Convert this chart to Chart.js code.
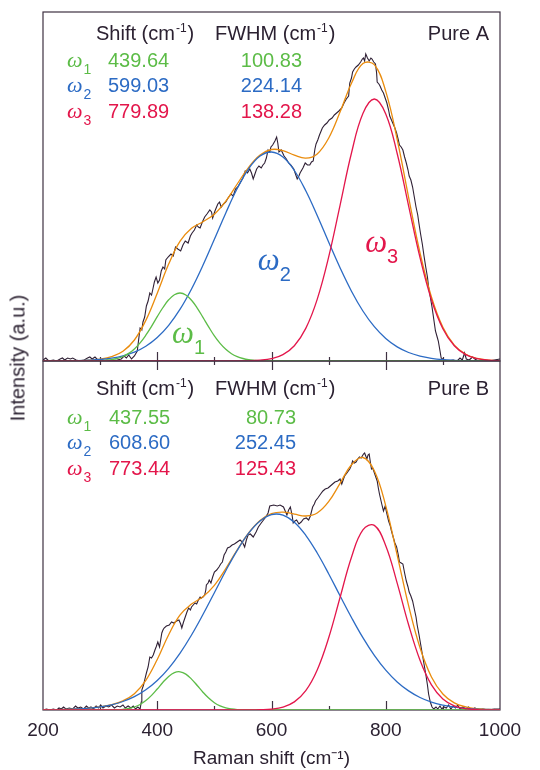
<!DOCTYPE html>
<html>
<head>
<meta charset="utf-8">
<script src="https://cdn.jsdelivr.net/npm/chart.js@4.4.1/dist/chart.umd.min.js"></script>
<style>
  body { margin: 0; background: #fff; width: 540px; height: 770px; position: relative; overflow: hidden; }
  canvas { position: absolute; left: 0; }
  #cTop { top: 0; }
  #cBot { top: 355px; }
  #ylab {
    position: absolute; left: 18px; top: 358px;
    transform: translate(-50%, -50%) rotate(-90deg);
    font: 20px "Liberation Sans", Arial, sans-serif; color: #2b2131; white-space: nowrap;
  }
</style>
</head>
<body>
<canvas id="cTop" width="540" height="370"></canvas>
<canvas id="cBot" width="540" height="415"></canvas>
<div id="ylab">Intensity (a.u.)</div>

<script>
// x grids (Raman shift, cm-1)
const fitX = [200,220,240,260,280,300,320,340,360,380,400,420,440,460,480,500,520,540,560,580,600,
              620,640,660,680,700,720,740,760,780,800,820,840,860,880,900,920,940,960,980,1000];
const greenX = [200,280,300,310,320,330,340,350,360,370,380,390,400,410,420,430,440,450,460,470,480,
                490,500,510,520,530,540,550,560,570,580,600,700,800,900,1000];
const majorTicks = [400, 600, 800];
const minorTicks = [300, 500, 700, 900];

// table values
const topShift = ['439.64', '599.03', '779.89'];
const topFwhm  = ['100.83', '224.14', '138.28'];
const botShift = ['437.55', '608.60', '773.44'];
const botFwhm  = ['80.73', '252.45', '125.43'];

// Pure A : fit components (a.u.)
const topW1 = [0,0.1,0.3,0.7,1.4,2.6,4.5,7.6,12.1,18.1,25.8,34.7,44.3,53.5,61.2,66.3,68.0,66.0,60.7,52.9,43.6,
               34.1,25.1,17.6,11.7,7.3,4.4,2.5,1.3,0.7,0.3,0.1,0,0,0,0];
const topW2 = [0,0.1,0.2,0.4,0.8,1.5,2.9,5.2,8.9,14.8,23.5,35.7,51.8,72.0,95.7,121.7,148.1,172.5,192.2,204.9,209.0,
               204.0,190.5,170.2,145.5,119.0,93.2,69.8,50.0,34.3,22.5,14.1,8.5,4.9,2.7,1.4,0.7,0.3,0.2,0.1,0];
const topW3 = [0,0,0,0,0,0,0,0,0,0,0,0,0,0,0,0,0,0.05,0.2,0.8,2.4,
               6.4,15.3,32.6,61.6,103.8,155.7,208.0,247.4,262.0,247.1,207.5,155.2,103.3,61.3,32.3,15.2,6.4,2.4,0.8,0.2];
const topFit = [0,0.1,0.2,0.4,0.8,1.8,4.3,9.7,21.0,40.6,67.8,96.9,119.8,132.7,139.3,146.8,159.8,177.0,193.7,206.0,211.5,
                210.4,205.8,202.8,207.1,222.8,248.9,277.8,297.4,296.3,269.6,221.6,163.7,108.2,64.0,33.7,15.9,6.7,2.6,0.9,0.3];
const topRaw = [[200,1],[205,3],[210,0],[218,1],[224,0],[230,2],[234,3],[238,1],[243,3],[248,2],[252,3],[258,1],[265,0],
  [272,1],[278,3],[282,4],[286,2],[291,4],[296,1],[303,0],[312,1],[320,0],[330,1],[337,2],[342,5],[346,3],[350,6],[355,2],
  [360,5],[365,10],[368,24],[370,33],[373,31],[375,39],[378,44],[381,55],[384,60],[387,68],[390,66],[392,71],[395,79],
  [398,84],[401,78],[404,81],[407,90],[410,94],[413,92],[415,101],[419,104],[424,107],[428,105],[432,114],[436,112],
  [441,110],[445,116],[449,120],[454,118],[458,125],[461,128],[465,131],[469,136],[472,134],[475,133],[479,139],[483,144],
  [487,147],[492,151],[495,149],[497,143],[501,150],[506,157],[509,159],[512,154],[516,157],[520,159],[524,163],[529,167],
  [533,165],[537,172],[541,174],[546,179],[550,183],[554,190],[558,188],[562,192],[565,188],[568,182],[571,187],[574,192],
  [578,195],[582,193],[585,196],[588,198],[591,203],[594,211],[597,209],[599,214],[602,216],[606,220],[609,224],[611,218],
  [613,209],[617,211],[622,205],[626,202],[630,198],[634,196],[639,192],[642,187],[645,182],[648,185],[650,188],[655,193],
  [659,198],[663,196],[667,196],[670,199],[673,200],[676,212],[678,217],[681,221],[684,226],[689,233],[693,236],[697,238],
  [701,241],[706,243],[710,246],[714,248],[718,250],[723,253],[727,258],[731,262],[735,265],[737,278],[740,283],[742,289],
  [745,292],[748,294],[752,296],[756,299],[759,302],[761,303],[763,300],[765,307],[768,303],[771,300],[774,303],[776,302],
  [779,299],[782,297],[784,288],[785,279],[788,277],[790,275],[793,271],[796,268],[799,263],[802,258],[805,251],[807,245],
  [810,241],[813,237],[816,233],[819,228],[822,221],[824,216],[827,214],[830,211],[833,204],[836,198],[839,191],[841,185],
  [844,181],[847,174],[850,164],[853,154],[856,146],[858,138],[861,127],[864,117],[867,105],[870,94],[873,84],[875,74],
  [878,64],[881,54],[884,42],[887,30],[890,24],[892,20],[895,10],[897,3],[902,1],[910,0],[918,1],[925,0],[930,3],[934,1],
  [938,8],[941,2],[946,1],[952,4],[956,2],[962,0],[970,1],[980,0],[990,1],[1000,2]];

// Pure B : fit components (a.u.)
const botW1 = [0,0,0,0,0.1,0.3,0.7,1.5,3.0,5.5,9.4,14.6,21.0,27.7,33.6,37.4,38.2,35.9,30.9,24.5,17.8,
               11.9,7.3,4.1,2.1,1.0,0.4,0.2,0.1,0,0,0,0,0,0,0];
const botW2 = [0.1,0.3,0.5,1.0,1.8,3.1,5.2,8.5,13.3,20.2,29.5,41.7,56.9,75.0,95.5,117.3,139.3,159.7,176.9,189.1,195.4,
               194.9,187.8,174.7,157.0,136.3,114.2,92.5,72.3,54.6,39.8,28.0,19.1,12.5,7.9,4.9,2.9,1.7,0.9,0.5,0.3];
const botW3 = [0,0,0,0,0,0,0,0,0,0,0,0,0,0,0,0,0,0,0.06,0.3,0.9,
               2.9,8.1,19.3,40.0,72.0,112.5,152.8,180.2,184.6,164.3,126.9,85.2,49.7,25.1,11.1,4.2,1.4,0.4,0.1,0];
const botFit = [0.1,0.3,0.5,1.0,1.8,3.1,5.3,9.2,16.3,29.6,50.5,75.3,95.1,105.9,113.3,124.6,141.4,160.1,177.0,189.4,196.3,
                197.8,195.9,194.0,197.0,208.3,226.7,245.3,252.5,239.2,204.1,154.9,104.3,62.2,33.0,16.0,7.1,3.1,1.3,0.6,0.3];
const botRaw = [[200,0],[206,1],[212,0],[218,1],[224,0],[228,2],[232,1],[236,3],[240,1],[246,2],[252,1],[257,4],[261,2],
  [266,3],[271,1],[276,4],[280,2],[284,3],[288,1],[293,4],[297,2],[301,5],[305,2],[310,4],[315,3],[320,5],[325,2],[330,4],
  [335,3],[340,5],[344,2],[349,4],[354,2],[358,4],[362,1],[366,3],[370,1],[372,8],[373,20],[376,25],[378,30],[381,37],
  [384,43],[387,53],[390,52],[393,55],[396,60],[398,63],[401,68],[404,63],[406,70],[408,77],[410,80],[412,82],[416,84],
  [421,85],[425,88],[429,87],[434,89],[438,90],[441,86],[443,82],[446,88],[449,93],[452,98],[455,102],[458,100],[460,103],
  [463,105],[466,107],[469,106],[472,110],[475,113],[477,112],[480,113],[483,115],[485,120],[486,125],[489,127],[491,130],
  [494,127],[497,133],[500,138],[504,140],[508,143],[511,146],[514,148],[517,155],[520,158],[523,162],[527,163],[531,165],
  [535,166],[540,168],[545,170],[549,168],[553,163],[556,170],[559,175],[563,176],[568,173],[573,178],[577,183],[582,187],
  [586,190],[590,193],[594,197],[597,204],[604,205],[610,204],[615,205],[621,203],[624,199],[627,195],[630,200],[633,203],
  [636,195],[638,187],[641,189],[644,190],[648,186],[652,188],[656,191],[661,192],[665,190],[668,194],[672,203],[675,206],
  [677,209],[681,212],[686,216],[690,219],[694,221],[699,222],[703,224],[707,226],[711,228],[716,229],[720,231],[723,226],
  [726,231],[728,234],[732,237],[737,241],[740,245],[742,249],[745,247],[748,248],[751,251],[754,253],[757,252],[759,254],
  [761,256],[763,257],[765,254],[767,251],[769,255],[771,256],[773,248],[775,241],[777,242],[779,239],[782,234],[785,229],
  [787,222],[789,216],[791,211],[793,206],[796,199],[799,204],[802,196],[805,189],[808,184],[810,179],[814,171],[816,167],
  [819,163],[822,155],[824,148],[827,147],[830,146],[833,137],[836,129],[839,123],[841,118],[844,114],[847,109],[850,101],
  [853,93],[855,85],[858,76],[861,66],[864,56],[867,46],[870,36],[873,25],[875,16],[878,8],[881,3],[884,1],[888,3],[891,1],
  [895,4],[898,1],[902,3],[906,2],[910,5],[914,1],[918,4],[922,2],[926,5],[930,1],[935,3],[940,1],[945,3],[950,0],[956,2],
  [962,0],[970,1],[980,0],[990,1],[1000,1]];

const GREEN = '#5cbc47', BLUE = '#2c6bc4', RED = '#e3164b', ORANGE = '#ea8c0d', BLACK = '#2f2035';
const TXT = '#2b2131', AXIS = '#3e3142';
const SANS = '"Liberation Sans", Arial, sans-serif';
const SERIF = '"Liberation Serif", "Times New Roman", serif';

const pairs = (xs, ys) => xs.map((x, i) => ({x: x, y: ys[i]}));

function rich(ctx, x, y, parts, color, align) {
  let w = 0;
  parts.forEach(p => { ctx.font = p.f; w += ctx.measureText(p.t).width + (p.gap || 0); });
  let cx = align === 'right' ? x - w : x;
  ctx.fillStyle = color;
  parts.forEach(p => {
    ctx.font = p.f;
    cx += p.gap || 0;
    ctx.fillText(p.t, cx, y + (p.dy || 0));
    cx += ctx.measureText(p.t).width;
  });
}

const framePlugin = {
  id: 'frame',
  beforeDatasetsDraw(chart, args, o) {
    const {ctx, chartArea: a} = chart;
    const x = chart.scales.x;
    ctx.save();
    ctx.strokeStyle = AXIS;
    ctx.lineWidth = 1.2;
    ctx.strokeRect(a.left, a.top, a.right - a.left, a.bottom - a.top);
    const tick = (v, len) => {
      const px = Math.round(x.getPixelForValue(v)) + 0.5;
      ctx.beginPath();
      ctx.moveTo(px, a.bottom); ctx.lineTo(px, a.bottom - len);
      if (o.topTicks) { ctx.moveTo(px, a.top); ctx.lineTo(px, a.top + len); }
      ctx.stroke();
    };
    majorTicks.forEach(v => tick(v, 9));
    minorTicks.forEach(v => tick(v, 4));
    ctx.restore();
  }
};

const notesPlugin = {
  id: 'notes',
  afterDatasetsDraw(chart, args, o) {
    const {ctx, chartArea: a} = chart;
    const sx = chart.scales.x, sy = chart.scales.y;
    const F = '20px ' + SANS, FS = '12px ' + SANS;
    ctx.save();
    ctx.textBaseline = 'alphabetic';
    const hy = a.top + o.head;
    rich(ctx, 96, hy, [{t: 'Shift (cm', f: F}, {t: '-1', f: FS, dy: -8, gap: 1}, {t: ')', f: F, gap: 1}], TXT, 'left');
    rich(ctx, 215, hy, [{t: 'FWHM (cm', f: F}, {t: '-1', f: FS, dy: -8, gap: 1}, {t: ')', f: F, gap: 1}], TXT, 'left');
    rich(ctx, 489, hy, [{t: o.name, f: F}], TXT, 'right');
    const cols = [GREEN, BLUE, RED];
    o.rows.forEach((r, i) => {
      const y = a.top + r;
      rich(ctx, 67, y, [{t: 'ω', f: 'italic 22px ' + SERIF}, {t: String(i + 1), f: '14px ' + SANS, dy: 7, gap: 1}], cols[i], 'left');
      rich(ctx, o.shiftLeft, y, [{t: o.shift[i], f: F}], cols[i], 'left');
      rich(ctx, o.fwhmRight, y, [{t: o.fwhm[i], f: F}], cols[i], 'right');
    });
    (o.big || []).forEach(b => {
      rich(ctx, sx.getPixelForValue(b.x), sy.getPixelForValue(b.y),
        [{t: 'ω', f: 'italic 31px ' + SERIF}, {t: b.n, f: '20px ' + SANS, dy: 11, gap: 0}], b.c, 'left');
    });
    ctx.restore();
  }
};

function panel(id, d, showAxis, pad, notes) {
  const line = (data, color, w, t) => ({data: data, borderColor: color, borderWidth: w, tension: t,
                                         pointRadius: 0, fill: false});
  const xScale = {
    type: 'linear', min: 200, max: 1000, display: showAxis,
    grid: {display: false, drawTicks: false}, border: {display: false},
    ticks: {stepSize: 200, padding: 9, color: TXT, maxRotation: 0, font: {family: SANS, size: 19},
            callback: v => String(v)},
    title: {display: true, text: 'Raman shift (cm⁻¹)', color: TXT, font: {family: SANS, size: 19},
            padding: {top: 0, bottom: 0}}
  };
  if (showAxis) xScale.afterFit = s => { s.height = 60; };
  return new Chart(document.getElementById(id), {
    type: 'line',
    data: {
      datasets: [
        line(pairs(fitX, d.w3), RED, 1.3, 0.4),
        line(pairs(greenX, d.w1), GREEN, 1.3, 0.4),
        line(pairs(fitX, d.w2), BLUE, 1.3, 0.4),
        line(pairs(fitX, d.fit), ORANGE, 1.3, 0.4),
        line(d.raw.map(p => ({x: p[0], y: p[1]})), BLACK, 1.1, 0)
      ]
    },
    options: {
      responsive: false,
      animation: false,
      events: [],
      layout: {padding: pad},
      plugins: {legend: {display: false}, tooltip: {enabled: false}, frame: {topTicks: showAxis}, notes: notes},
      scales: {
        x: xScale,
        y: {min: 0, max: 349, display: false}
      }
    },
    plugins: [framePlugin, notesPlugin]
  });
}

panel('cTop', {w1: topW1, w2: topW2, w3: topW3, fit: topFit, raw: topRaw}, false,
  {left: 43, right: 40, top: 12, bottom: 9},
  {name: 'Pure A', head: 28, rows: [54.5, 80, 106], shift: topShift, fwhm: topFwhm, shiftLeft: 108, fwhmRight: 302,
   big: [{x: 426, y: 18, n: '1', c: GREEN}, {x: 576, y: 91, n: '2', c: BLUE}, {x: 764, y: 109, n: '3', c: RED}]});

panel('cBot', {w1: botW1, w2: botW2, w3: botW3, fit: botFit, raw: botRaw}, true,
  {left: 43, right: 40, top: 6, bottom: 0},
  {name: 'Pure B', head: 34, rows: [63, 88, 114], shift: botShift, fwhm: botFwhm, shiftLeft: 109, fwhmRight: 296});
</script>
</body>
</html>
